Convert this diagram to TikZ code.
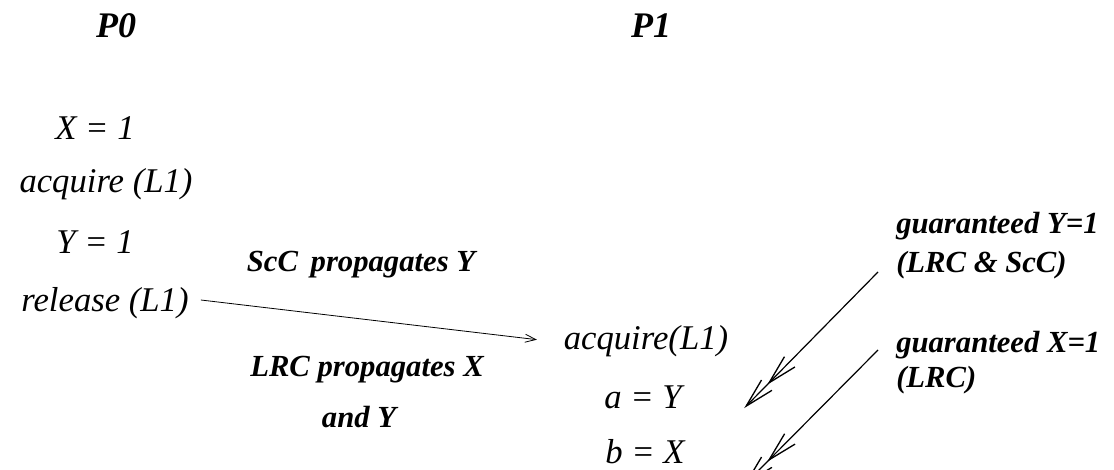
\documentclass[tikz,border=0pt]{standalone}
\usepackage{fontspec}
\setmainfont{Liberation Serif}
\usetikzlibrary{arrows.meta}
\begin{document}
\begin{tikzpicture}[x=0.75pt,y=-0.75pt,
  stmt/.style={font=\fontsize{26}{30}\selectfont\itshape, inner sep=0pt},
  lbl/.style={font=\fontsize{23}{27}\selectfont\bfseries\itshape, inner sep=0pt},
  head/.style={font=\fontsize{27}{31}\selectfont\bfseries\itshape, inner sep=0pt},
  flow/.style={draw, line width=0.6pt, -{Straight Barb[length=8pt,width=6pt]}},
  guar/.style={draw, line width=0.9pt, -{Straight Barb[length=22pt,width=11pt,line width=1pt]Straight Barb[length=22pt,width=11pt,sep=-19pt,line width=1pt]}}]
\useasboundingbox (0,0) rectangle (1114,470);
\node[head] (p0) at (116,26) {P0};
\node[head] (p1) at (651,26) {P1};
\node[stmt] (x1) at (95,128) {X = 1};
\node[stmt] (acq0) at (106,184) {acquire (L1)};
\node[stmt] (y1) at (95,242) {Y = 1};
\node[stmt] (rel) at (105,303) {release (L1)};
\node[stmt] (acq1) at (646,341) {acquire(L1)};
\node[stmt] (ay) at (643,397) {a = Y};
\node[stmt] (bx) at (645,452) {b = X};
\node[lbl] (scc) at (361,265) {ScC\, propagates Y};
\node[lbl] (lrc) at (367,370) {LRC propagates X};
\node[lbl] (andy) at (359,417) {and Y};
\node[lbl, anchor=west] (gy) at (896,226) {guaranteed Y=1};
\node[lbl, anchor=west] (gyl) at (896,265) {(LRC \& ScC)};
\node[lbl, anchor=west] (gx) at (896,345) {guaranteed X=1};
\node[lbl, anchor=west] (gxl) at (896,380) {(LRC)};
\coordinate (ty) at (762,390);
\coordinate (tx) at (762,467);
\draw[flow] (rel.east) ++(12,-3) -- ([xshift=-20pt,yshift=1pt]acq1.west);
\draw[guar] (gyl.west) ++(-18,7) -- (ty);
\draw[guar] (gx.west) ++(-18,5) -- (tx);
\end{tikzpicture}
\end{document}
